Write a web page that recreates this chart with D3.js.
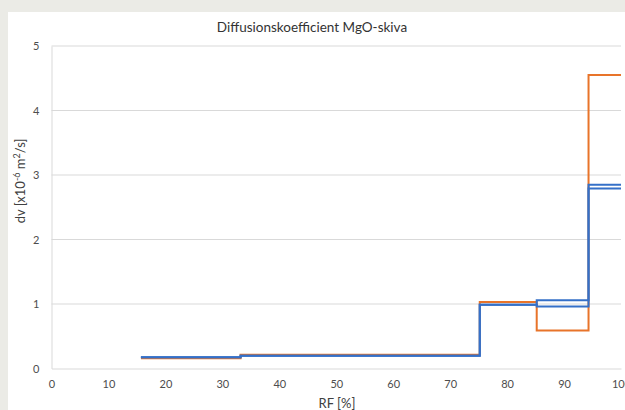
<!DOCTYPE html>
<html>
<head>
<meta charset="utf-8">
<script src="https://cdn.jsdelivr.net/npm/d3@7"></script>
<style>
  html, body { margin: 0; padding: 0; background: #ebebe6; }
  svg { display: block; }
  text { font-family: Lato, "Open Sans", sans-serif; }
</style>
</head>
<body>
<svg id="chart" width="625" height="410"></svg>
<script>
// ---- data ----
const title = "Diffusionskoefficient MgO-skiva";
const xLabel = "RF [%]";
const xTicks = [0, 10, 20, 30, 40, 50, 60, 70, 80, 90, 100];
const yTicks = [0, 1, 2, 3, 4, 5];
// step break points (RF %) — each value holds from its break point to the next
const stepX = [15.7, 33.2, 75.2, 85.2, 94.3, 100];
const orangeValues = [0.16, 0.213, 1.03, 0.59, 4.55];
const blueAValues  = [0.175, 0.197, 0.99, 1.06, 2.85];
const blueBValues  = [0.175, 0.197, 0.99, 0.96, 2.79];

const seriesList = [
  { name: "orange", values: orangeValues, color: "#e8742a" },
  { name: "blueA",  values: blueAValues,  color: "#3570c8" },
  { name: "blueB",  values: blueBValues,  color: "#3570c8" }
];

// ---- layout ----
const svg = d3.select("#chart");
const W = 625, H = 410;
const plot = { left: 51.5, right: 621, top: 46, bottom: 368.5 };

// white panel
svg.append("rect").attr("x", 8).attr("y", 12).attr("width", W - 8).attr("height", H - 12).attr("fill", "#ffffff");

const x = d3.scaleLinear().domain([0, 100]).range([plot.left, plot.right]);
const y = d3.scaleLinear().domain([0, 5]).range([plot.bottom, plot.top]);

// gridlines
svg.append("g").selectAll("line").data(yTicks.filter(d => d > 0)).join("line")
  .attr("x1", plot.left).attr("x2", plot.right)
  .attr("y1", d => y(d)).attr("y2", d => y(d))
  .attr("stroke", "#d9d9d9").attr("stroke-width", 1);

// axes
const xAxis = svg.append("g").attr("transform", `translate(0,${plot.bottom})`)
  .call(d3.axisBottom(x).tickValues(xTicks).tickSize(0).tickPadding(12).tickFormat(d3.format("d")));
xAxis.select(".domain").attr("stroke", "#d9d9d9").attr("stroke-width", 1.2);
xAxis.selectAll("text").attr("font-size", 11).attr("fill", "#4d4d4d");

const yAxis = svg.append("g").attr("transform", `translate(${plot.left},0)`)
  .call(d3.axisLeft(y).tickValues(yTicks).tickSize(0).tickPadding(12).tickFormat(d3.format("d")));
yAxis.select(".domain").attr("stroke", "#d9d9d9").attr("stroke-width", 1);
yAxis.selectAll("text").attr("font-size", 11).attr("fill", "#4d4d4d");

// step lines
const line = d3.line().x(d => x(d[0])).y(d => y(d[1])).curve(d3.curveStepAfter);
seriesList.forEach(s => {
  const pts = s.values.map((v, i) => [stepX[i], v]);
  pts.push([stepX[stepX.length - 1], s.values[s.values.length - 1]]);
  svg.append("path").datum(pts)
    .attr("d", line)
    .attr("fill", "none")
    .attr("stroke", s.color)
    .attr("stroke-width", 2);
});

// title
svg.append("text").attr("x", 312).attr("y", 32).attr("text-anchor", "middle")
  .attr("font-size", 13.5).attr("fill", "#333333").text(title);

// x label
svg.append("text").attr("x", 337).attr("y", 408).attr("text-anchor", "middle")
  .attr("font-size", 13).attr("fill", "#404040").text(xLabel);

// y label with super-scripts
const yl = svg.append("text").attr("transform", "translate(25,181) rotate(-90)")
  .attr("text-anchor", "middle").attr("font-size", 13).attr("fill", "#404040");
yl.append("tspan").text("dv [x10");
yl.append("tspan").attr("dy", -5).attr("font-size", 9).text("-6");
yl.append("tspan").attr("dy", 5).text(" m");
yl.append("tspan").attr("dy", -5).attr("font-size", 9).text("2");
yl.append("tspan").attr("dy", 5).text("/s]");
</script>
</body>
</html>
